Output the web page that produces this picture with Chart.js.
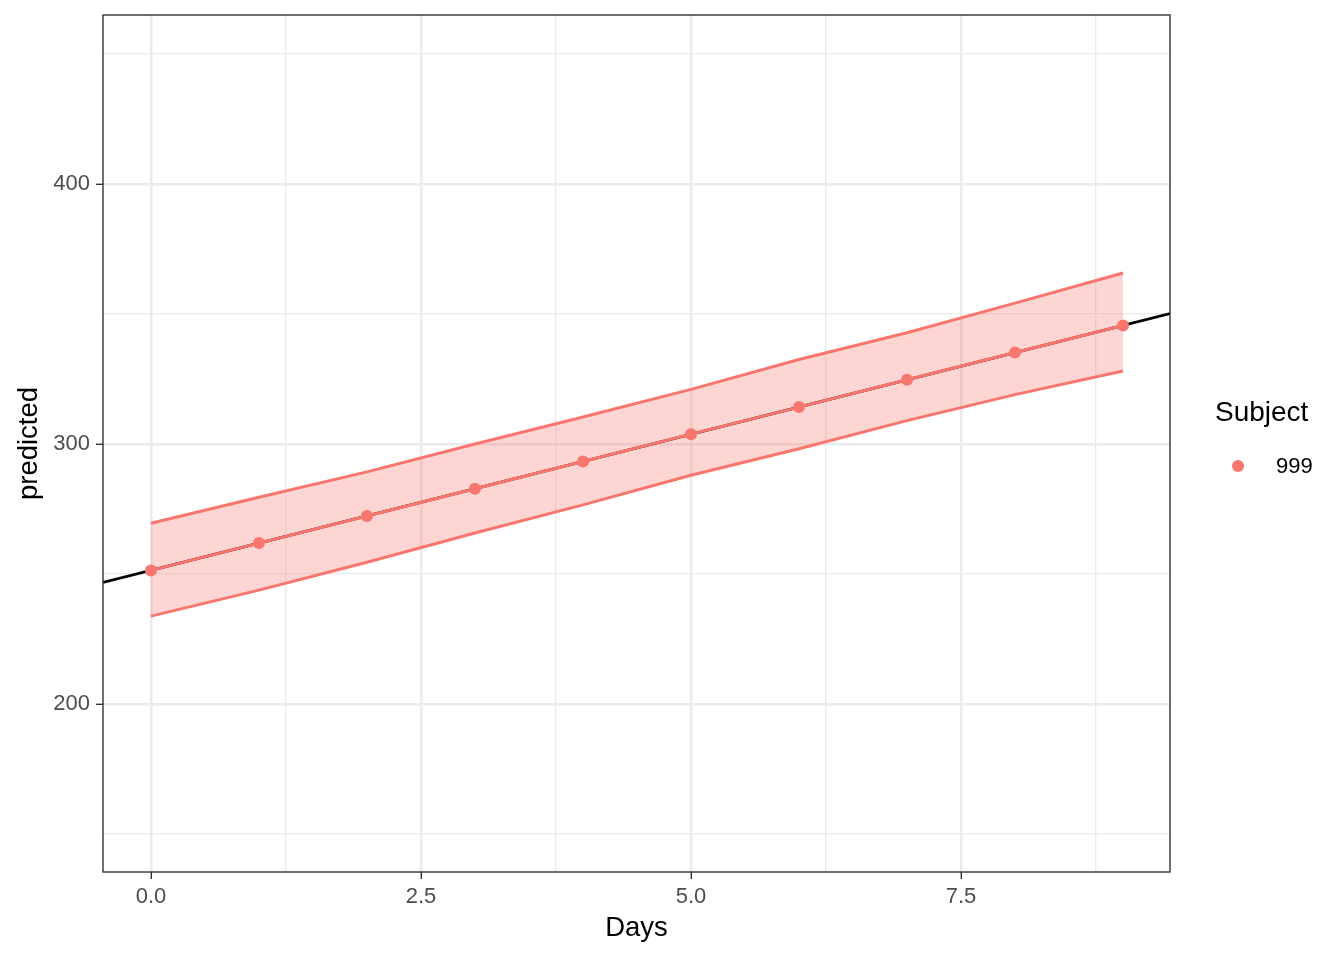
<!DOCTYPE html>
<html>
<head>
<meta charset="utf-8">
<script src="https://cdn.jsdelivr.net/npm/chart.js@4"></script>
<style>
  html, body { margin: 0; padding: 0; background: #fff; }
  #wrap { position: relative; width: 1344px; height: 960px; }
  #legend { position: absolute; left: 0; top: 0; font-family: "Liberation Sans", Arial, sans-serif; color: #000; }
  .leg-title { position: absolute; left: 1215px; top: 396px; font-size: 28px; white-space: nowrap; }
  .leg-dot { position: absolute; left: 1232px; top: 460px; width: 12px; height: 12px; border-radius: 50%; background: #F8766D; }
  .leg-label { position: absolute; left: 1276px; top: 453px; font-size: 22px; white-space: nowrap; }
</style>
</head>
<body>
<div id="wrap">
  <canvas id="chart"></canvas>
  <div id="legend">
    <div class="leg-title">Subject</div>
    <div class="leg-dot"></div>
    <div class="leg-label">999</div>
  </div>
</div>
<script>
  // --- data ---
  const days = [0, 1, 2, 3, 4, 5, 6, 7, 8, 9];
  const predicted = [251.4, 261.9, 272.3, 282.8, 293.3, 303.8, 314.2, 324.7, 335.2, 345.6];
  const upperBand = [269.5, 279.5, 289.3, 300.0, 310.4, 321.0, 332.5, 342.8, 354.2, 365.8];
  const lowerBand = [233.8, 243.8, 254.5, 265.8, 276.6, 288.0, 298.2, 309.0, 319.0, 328.1];
  const refLineX = [-0.444, 9.435];
  const refLineY = [246.8, 350.2];
  const xMajorTicks = [0, 2.5, 5, 7.5];
  const yMajorTicks = [200, 300, 400];
  const subjectName = "999";

  const RED = "#F8766D";
  const GRID = "#EBEBEB";
  const INK = "#333333";

  const pts = (xs, ys) => xs.map((x, i) => ({ x: x, y: ys[i] }));
  const isMajor = (list, v) => list.some((m) => Math.abs(m - v) < 1e-6);

  Chart.defaults.font.family = '"Liberation Sans", Arial, sans-serif';

  // panel border drawn on top, like theme_bw
  const panelBorder = {
    id: "panelBorder",
    afterDraw(chart) {
      const a = chart.chartArea;
      const c = chart.ctx;
      c.save();
      c.strokeStyle = INK;
      c.lineWidth = 1.4;
      c.strokeRect(a.left, a.top, a.right - a.left, a.bottom - a.top);
      c.restore();
    }
  };

  new Chart(document.getElementById("chart"), {
    type: "scatter",
    data: {
      datasets: [
        {
          label: "lower",
          data: pts(days, lowerBand),
          showLine: true,
          borderColor: RED,
          borderWidth: 3,
          pointRadius: 0,
          fill: false,
          order: 5
        },
        {
          label: "upper",
          data: pts(days, upperBand),
          showLine: true,
          borderColor: RED,
          borderWidth: 3,
          pointRadius: 0,
          backgroundColor: "rgba(248,118,109,0.3)",
          fill: "-1",
          order: 4
        },
        {
          label: "abline",
          data: pts(refLineX, refLineY),
          showLine: true,
          borderColor: "#000000",
          borderWidth: 2.8,
          pointRadius: 0,
          order: 3
        },
        {
          label: subjectName,
          data: pts(days, predicted),
          showLine: true,
          borderColor: RED,
          borderWidth: 3,
          pointRadius: 6,
          pointBackgroundColor: RED,
          pointBorderWidth: 0,
          order: 1
        }
      ]
    },
    options: {
      responsive: true,
      maintainAspectRatio: false,
      animation: false,
      layout: { padding: { top: 15, right: 174, left: 0, bottom: 0 } },
      plugins: {
        legend: { display: false },
        tooltip: { enabled: false }
      },
      scales: {
        x: {
          type: "linear",
          min: refLineX[0],
          max: refLineX[1],
          afterFit: (s) => { s.height = 88; s.paddingLeft = 0; s.paddingRight = 0; },
          border: { display: false },
          grid: {
            color: GRID,
            lineWidth: (ctx) => (ctx.tick && isMajor(xMajorTicks, ctx.tick.value) ? 2.6 : 1.3),
            tickLength: 7,
            tickColor: (ctx) => (ctx.tick && isMajor(xMajorTicks, ctx.tick.value) ? INK : "rgba(0,0,0,0)"),
            tickWidth: 1.4
          },
          ticks: {
            stepSize: 1.25,
            includeBounds: false,
            autoSkip: false,
            maxRotation: 0,
            padding: 5,
            color: "#4D4D4D",
            font: { size: 22 },
            callback: (v) => (isMajor(xMajorTicks, v) ? Number(v).toFixed(1) : "")
          },
          title: {
            display: true,
            text: "Days",
            color: "#000",
            font: { size: 27.5 },
            padding: { top: 0, bottom: 15 }
          }
        },
        y: {
          type: "linear",
          min: 135.4,
          max: 465,
          afterFit: (s) => { s.width = 103; s.paddingTop = 0; s.paddingBottom = 0; },
          border: { display: false },
          grid: {
            color: GRID,
            lineWidth: (ctx) => (ctx.tick && isMajor(yMajorTicks, ctx.tick.value) ? 2.6 : 1.3),
            tickLength: 7,
            tickColor: (ctx) => (ctx.tick && isMajor(yMajorTicks, ctx.tick.value) ? INK : "rgba(0,0,0,0)"),
            tickWidth: 1.4
          },
          ticks: {
            stepSize: 50,
            includeBounds: false,
            autoSkip: false,
            padding: 6,
            color: "#4D4D4D",
            font: { size: 22 },
            callback: (v) => (isMajor(yMajorTicks, v) ? String(v) : "")
          },
          title: {
            display: true,
            text: "predicted",
            color: "#000",
            font: { size: 27.5 },
            padding: { top: 13, bottom: 0 }
          }
        }
      }
    },
    plugins: [panelBorder]
  });
</script>
</body>
</html>
